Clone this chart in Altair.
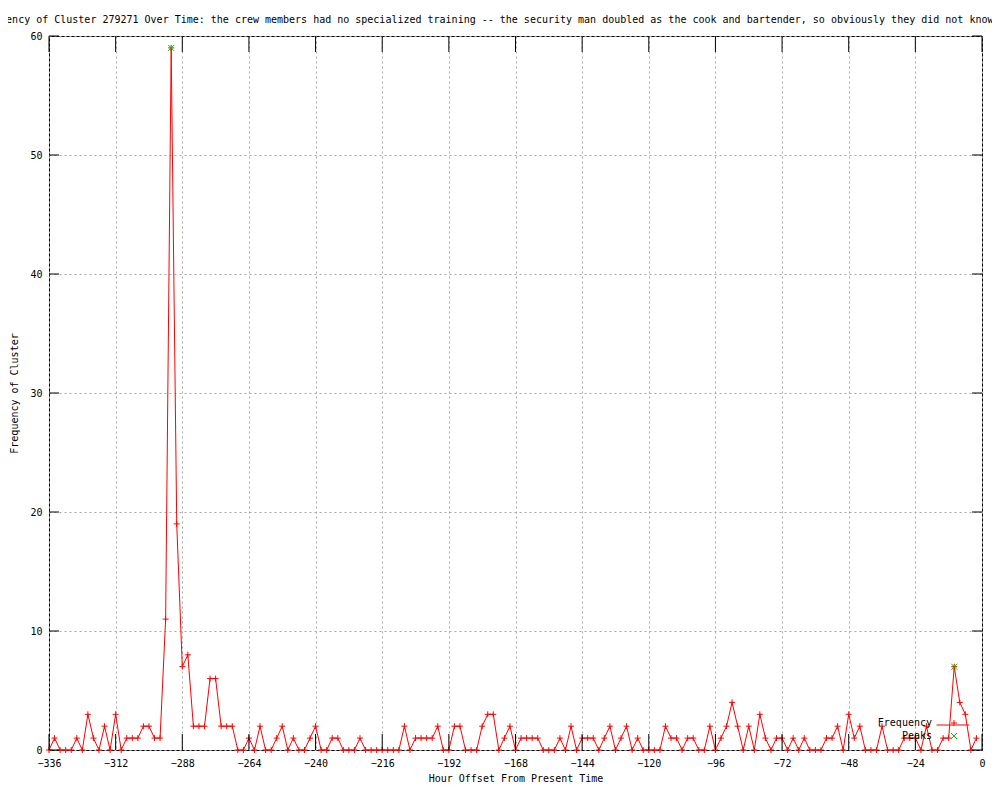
import altair as alt
import pandas as pd

# ---- data ----
hours = [
    -336, -334, -332, -330, -328, -326, -324, -322, -320, -318, -316, -314,
    -312, -310, -308, -306, -304, -302, -300, -298, -296, -294, -292, -290,
    -288, -286, -284, -282, -280, -278, -276, -274, -272, -270, -268, -266,
    -264, -262, -260, -258, -256, -254, -252, -250, -248, -246, -244, -242,
    -240, -238, -236, -234, -232, -230, -228, -226, -224, -222, -220, -218,
    -216, -214, -212, -210, -208, -206, -204, -202, -200, -198, -196, -194,
    -192, -190, -188, -186, -184, -182, -180, -178, -176, -174, -172, -170,
    -168, -166, -164, -162, -160, -158, -156, -154, -152, -150, -148, -146,
    -144, -142, -140, -138, -136, -134, -132, -130, -128, -126, -124, -122,
    -120, -118, -116, -114, -112, -110, -108, -106, -104, -102, -100, -98,
    -96, -94, -92, -90, -88, -86, -84, -82, -80, -78, -76, -74,
    -72, -70, -68, -66, -64, -62, -60, -58, -56, -54, -52, -50,
    -48, -46, -44, -42, -40, -38, -36, -34, -32, -30, -28, -26,
    -24, -22, -20, -18, -16, -14, -12, -10, -8, -6, -4, -2,
]
frequency = [
    0, 1, 0, 0, 0, 1, 0, 3, 1, 0, 2, 0,
    3, 0, 1, 1, 1, 2, 2, 1, 1, 11, 59, 19,
    7, 8, 2, 2, 2, 6, 6, 2, 2, 2, 0, 0,
    1, 0, 2, 0, 0, 1, 2, 0, 1, 0, 0, 1,
    2, 0, 0, 1, 1, 0, 0, 0, 1, 0, 0, 0,
    0, 0, 0, 0, 2, 0, 1, 1, 1, 1, 2, 0,
    0, 2, 2, 0, 0, 0, 2, 3, 3, 0, 1, 2,
    0, 1, 1, 1, 1, 0, 0, 0, 1, 0, 2, 0,
    1, 1, 1, 0, 1, 2, 0, 1, 2, 0, 1, 0,
    0, 0, 0, 2, 1, 1, 0, 1, 1, 0, 0, 2,
    0, 1, 2, 4, 2, 0, 2, 0, 3, 1, 0, 1,
    1, 0, 1, 0, 1, 0, 0, 0, 1, 1, 2, 0,
    3, 1, 2, 0, 0, 0, 2, 0, 0, 0, 1, 1,
    1, 0, 2, 0, 0, 1, 1, 7, 4, 3, 0, 1,
]
peak_hours = [-292, -10]
peak_values = [59, 7]

x_ticks = [-336, -312, -288, -264, -240, -216, -192, -168, -144, -120, -96, -72, -48, -24, 0]
y_ticks = [0, 10, 20, 30, 40, 50, 60]

series_names = ["Frequency", "Peaks"]

title_text = ("Frequency of Cluster 279271 Over Time: the crew members had no specialized "
              "training -- the security man doubled as the cook and bartender, so obviously "
              "they did not know w")

# ---- tables ----
freq_df = pd.DataFrame({"hour": hours, "value": frequency, "series": "Frequency"})
peak_df = pd.DataFrame({"hour": peak_hours, "value": peak_values, "series": "Peaks"})
pts_df = pd.concat([freq_df, peak_df], ignore_index=True)
xt_df = pd.DataFrame({"xt": x_ticks})
yt_df = pd.DataFrame({"yt": y_ticks})

# ---- styling ----
W, H = 933, 714
FONT = "DejaVu Sans Mono"
FS = 10
RED = "#ff0000"
GREEN = "#00c000"
PLUS = "M-1,0L1,0M0,-1L0,1"
XMARK = "M-1,-1L1,1M-1,1L1,-1"

xscale = alt.Scale(domain=[-336, 0], nice=False, zero=False)
yscale = alt.Scale(domain=[0, 60], nice=False, zero=True)

x_axis = alt.Axis(
    values=x_ticks, title="Hour Offset From Present Time", tickSize=0, domain=False,
    grid=True, gridColor="#a8a8a8", gridDash=[2, 3], gridWidth=1,
    labelFont=FONT, labelFontSize=FS, labelColor="black", labelPadding=8,
    labelFlush=False, labelOverlap=False,
    titleFont=FONT, titleFontSize=FS, titleFontWeight="normal", titleColor="black",
    titlePadding=5,
)
y_axis = alt.Axis(
    values=y_ticks, title="Frequency of Cluster", tickSize=0, domain=False,
    grid=True, gridColor="#a8a8a8", gridDash=[2, 3], gridWidth=1,
    labelFont=FONT, labelFontSize=FS, labelColor="black", labelPadding=7,
    labelFlush=False, labelOverlap=False,
    titleFont=FONT, titleFontSize=FS, titleFontWeight="normal", titleColor="black",
    titleAngle=270, titleX=-35, titleY=H / 2, titleAlign="center", titleBaseline="middle",
)

point_legend = alt.Legend(
    title=None, orient="none", legendX=900, legendY=682,
    labelFont=FONT, labelFontSize=FS, labelColor="black", labelAlign="right",
    labelOffset={"expr": "-27"}, symbolSize=36, symbolStrokeWidth=1, rowPadding=3, padding=0,
    symbolFillColor="transparent",
)
line_legend = alt.Legend(
    title=None, orient="none", legendX=887, legendY=672,
    labelExpr="''", labelOpacity=0, symbolType="stroke", symbolSize=1089, symbolStrokeWidth=1,
    padding=0,
)

line = alt.Chart(freq_df).mark_line(strokeWidth=1, clip=False).encode(
    x=alt.X("hour:Q", scale=xscale, axis=x_axis),
    y=alt.Y("value:Q", scale=yscale, axis=y_axis),
    color=alt.Color("series:N", scale=alt.Scale(domain=["Frequency"], range=[RED]), legend=line_legend),
)

points = alt.Chart(pts_df).mark_point(filled=False, strokeWidth=1, size=36, opacity=1).encode(
    x=alt.X("hour:Q", scale=xscale, axis=x_axis),
    y=alt.Y("value:Q", scale=yscale, axis=y_axis),
    color=alt.Color("series:N", scale=alt.Scale(domain=series_names, range=[RED, GREEN]), legend=point_legend),
    shape=alt.Shape("series:N", scale=alt.Scale(domain=series_names, range=[PLUS, XMARK]), legend=point_legend),
)

tick_bottom = alt.Chart(xt_df).mark_rule(color="black", strokeWidth=1).encode(
    x=alt.X("xt:Q", scale=xscale, axis=x_axis), y=alt.value(H), y2=alt.value(H - 16))
tick_top = alt.Chart(xt_df).mark_rule(color="black", strokeWidth=1).encode(
    x=alt.X("xt:Q", scale=xscale, axis=x_axis), y=alt.value(0), y2=alt.value(16))
tick_left = alt.Chart(yt_df).mark_rule(color="black", strokeWidth=1).encode(
    y=alt.Y("yt:Q", scale=yscale, axis=y_axis), x=alt.value(0), x2=alt.value(10))
tick_right = alt.Chart(yt_df).mark_rule(color="black", strokeWidth=1).encode(
    y=alt.Y("yt:Q", scale=yscale, axis=y_axis), x=alt.value(W - 10), x2=alt.value(W))

chart = alt.layer(line, points, tick_bottom, tick_top, tick_left, tick_right).resolve_scale(
    color="independent", shape="independent"
).properties(
    width=W, height=H,
    background="white",
    autosize=alt.AutoSizeParams(type="none"),
    padding={"left": 41, "top": 28, "right": 10, "bottom": 36},
    title=alt.TitleParams(
        text=title_text, anchor="start", frame="group", dx=-73, offset=6,
        font=FONT, fontSize=FS, fontWeight="normal", color="black",
    ),
).configure_view(
    stroke="black", strokeWidth=1,
)

chart.save("out.html", embed_options={"renderer": "svg", "actions": False})
